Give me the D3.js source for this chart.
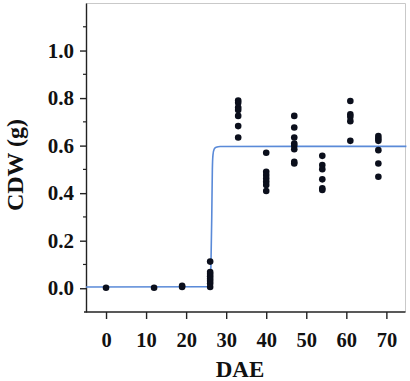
<!DOCTYPE html>
<html><head><meta charset="utf-8">
<script src="https://cdn.jsdelivr.net/npm/d3@7"></script>
<style>body{margin:0;background:#fff}svg{display:block}</style>
</head><body>
<svg id="c" width="410" height="381"></svg>
<script>
// Observed data: days after emergence (DAE) and canopy dry weight (g)
const days = [0, 12, 19, 26, 33, 40, 47, 54, 61, 68];
const cdw = [
  [0.002],
  [0.002],
  [0.005, 0.01],
  [0.005, 0.02, 0.03, 0.04, 0.05, 0.06, 0.068, 0.112],
  [0.79, 0.78, 0.76, 0.75, 0.725, 0.682, 0.634],
  [0.57, 0.49, 0.476, 0.462, 0.448, 0.434, 0.409],
  [0.725, 0.676, 0.634, 0.609, 0.599, 0.585, 0.532, 0.525],
  [0.557, 0.518, 0.501, 0.458, 0.42, 0.413],
  [0.788, 0.732, 0.721, 0.703, 0.62],
  [0.64, 0.63, 0.62, 0.581, 0.525, 0.469]
];
// Fitted curve
const curveX = [-5, 25.6, 26.0, 26.2, 26.4, 26.55, 26.7, 27.0, 27.5, 28.5, 75];
const curveY = [0.005, 0.006, 0.02, 0.1, 0.3, 0.5, 0.56, 0.585, 0.593, 0.596, 0.597];
const xTicks = [0, 10, 20, 30, 40, 50, 60, 70];
const yTicks = [0.0, 0.2, 0.4, 0.6, 0.8, 1.0];
const yMinor = [0.1, 0.3, 0.5, 0.7, 0.9, 1.1];

const svg = d3.select("#c");
const x = d3.scaleLinear().domain([-5, 75]).range([86, 406.4]);
const y = d3.scaleLinear().domain([-0.1, 1.2]).range([312, 3]);
const font = "'Liberation Serif','Times New Roman',serif";

// light frame top/right
svg.append("path").attr("d", `M86,3.5H405.5V312`).attr("fill","none")
  .attr("stroke","#c9c9c9").attr("stroke-width",1);

// y axis
const gy = svg.append("g").attr("transform","translate(86,0)")
  .call(d3.axisLeft(y).tickValues(yTicks).tickFormat(d3.format(".1f")).tickSize(6).tickSizeOuter(0));
gy.select(".domain").attr("stroke","#222").attr("stroke-width",1.4);
gy.selectAll(".tick line").attr("stroke","#222").attr("stroke-width",1.4);
gy.selectAll(".tick text").attr("font-family",font).attr("font-weight","bold")
  .attr("font-size",21).attr("fill","#111").attr("x",-12);
svg.append("g").selectAll("line").data(yMinor).join("line")
  .attr("x1",83).attr("x2",86).attr("y1",d=>y(d)).attr("y2",d=>y(d))
  .attr("stroke","#222").attr("stroke-width",1.2);

// x axis
const gx = svg.append("g").attr("transform","translate(0,312)")
  .call(d3.axisBottom(x).tickValues(xTicks).tickFormat(d3.format("d")).tickSize(7).tickSizeOuter(0).tickPadding(13));
gx.select(".domain").attr("stroke","#222").attr("stroke-width",1.4).attr("d","M84,0H405.5");
gx.selectAll(".tick line").attr("stroke","#222").attr("stroke-width",1.4);
gx.selectAll(".tick text").attr("font-family",font).attr("font-weight","bold")
  .attr("font-size",20.5).attr("fill","#111");

// curve
const pts = curveX.map((d,i)=>[d, curveY[i]]);
svg.append("path").datum(pts)
  .attr("d", d3.line().x(d=>x(d[0])).y(d=>y(d[1])).curve(d3.curveMonotoneX))
  .attr("fill","none").attr("stroke","#5a8ad8").attr("stroke-width",1.6);

// points
const flat = [];
days.forEach((d,i)=>cdw[i].forEach(v=>flat.push([d,v])));
svg.append("g").selectAll("circle").data(flat).join("circle")
  .attr("cx",d=>x(d[0])).attr("cy",d=>y(d[1])).attr("r",3.3).attr("fill","#0b0f1c");

// labels
svg.append("text").attr("x",240).attr("y",377).attr("text-anchor","middle")
  .attr("font-family",font).attr("font-weight","bold").attr("font-size",23).attr("fill","#111").text("DAE");
svg.append("text").attr("transform","translate(23,165) rotate(-90)").attr("text-anchor","middle")
  .attr("font-family",font).attr("font-weight","bold").attr("font-size",24).attr("fill","#111").text("CDW (g)");
</script>
</body></html>
